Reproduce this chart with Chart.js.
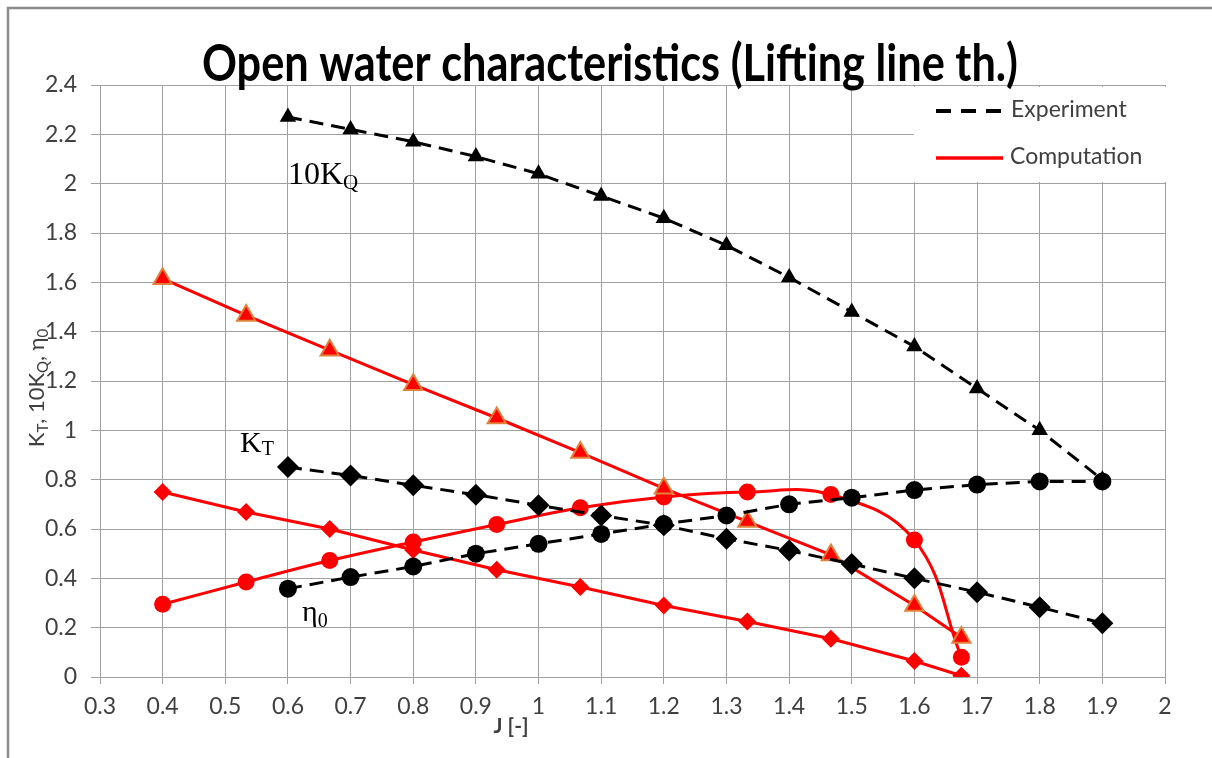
<!DOCTYPE html>
<html>
<head>
<meta charset="utf-8">
<script src="https://cdn.jsdelivr.net/npm/chart.js@4.4.1/dist/chart.umd.min.js"></script>
<style>
  body { margin: 0; background: #ffffff; }
  #wrap { position: relative; width: 1212px; height: 758px; }
</style>
</head>
<body>
<div id="wrap"><canvas id="owChart" width="1212" height="758"></canvas></div>
<script>
// --- DATA ---
// Experiment: J = 0.6 .. 1.9
const jExp = [0.6, 0.7, 0.8, 0.9, 1.0, 1.1, 1.2, 1.3, 1.4, 1.5, 1.6, 1.7, 1.8, 1.9];
const kq10Exp = [2.27, 2.22, 2.17, 2.11, 2.04, 1.95, 1.86, 1.75, 1.62, 1.48, 1.34, 1.17, 1.00, 0.80];
const ktExp = [0.851, 0.817, 0.777, 0.739, 0.696, 0.655, 0.615, 0.56, 0.513, 0.458, 0.40, 0.344, 0.283, 0.218];
const etaExp = [0.358, 0.405, 0.448, 0.50, 0.54, 0.58, 0.62, 0.655, 0.70, 0.727, 0.758, 0.78, 0.793, 0.793];

// Computation (lifting line theory)
const jComp = [0.4, 0.5333, 0.6667, 0.8, 0.9333, 1.0667, 1.2, 1.3333, 1.4667, 1.6, 1.675];
const kq10Comp = [1.615, 1.466, 1.325, 1.185, 1.05, 0.91, 0.765, 0.63, 0.495, 0.29, 0.16];
const ktComp = [0.75, 0.669, 0.60, 0.515, 0.435, 0.365, 0.29, 0.225, 0.155, 0.065, 0.005];
const etaComp = [0.295, 0.385, 0.472, 0.547, 0.618, 0.686, 0.73, 0.75, 0.74, 0.555, 0.08];

// Axis ranges / ticks
const xMin = 0.3, xMax = 2.0, xStep = 0.1;
const yMin = 0, yMax = 2.4, yStep = 0.2;

const legendLabels = ['Experiment', 'Computation'];
const titleText = 'Open water characteristics (Lifting line th.)';

// Helper: pair J values with a series
function toPoints(xs, ys) {
    return xs.map((x, i) => ({ x: x, y: ys[i] }));
}

// Helper: "1.0" -> "1", "0.30000004" -> "0.3"
function fmtTick(v) {
    return String(Math.round(v * 10) / 10);
}

const gridColor = '#a0a0a0';
const textColor = '#404040';

// Helper: text with a subscript, returns x after drawing
function drawSubText(ctx, x, y, parts, bigFont, smallFont, subDy) {
    parts.forEach(p => {
        ctx.font = p.sub ? smallFont : bigFont;
        ctx.fillText(p.t, x, y + (p.sub ? subDy : 0));
        x += ctx.measureText(p.t).width;
    });
    return x;
}

function measureSubText(ctx, parts, bigFont, smallFont) {
    let w = 0;
    parts.forEach(p => {
        ctx.font = p.sub ? smallFont : bigFont;
        w += ctx.measureText(p.t).width;
    });
    return w;
}

// --- DECORATIONS: frame, title, legend box, axis titles, curve labels ---
const decorations = {
    id: 'decorations',
    beforeDatasetsDraw(chart) {
        const ctx = chart.ctx;
        ctx.save();
        // legend box covers the grid (white, no border)
        ctx.fillStyle = '#ffffff';
        ctx.fillRect(914, 87, 252, 95);

        ctx.lineWidth = 4;
        ctx.strokeStyle = '#000000';
        ctx.setLineDash([15, 10]);
        ctx.beginPath();
        ctx.moveTo(936, 111);
        ctx.lineTo(1003, 111);
        ctx.stroke();

        ctx.setLineDash([]);
        ctx.lineWidth = 3.5;
        ctx.strokeStyle = '#ff0000';
        ctx.beginPath();
        ctx.moveTo(936, 158);
        ctx.lineTo(1003, 158);
        ctx.stroke();

        ctx.fillStyle = textColor;
        ctx.font = '23px Lato';
        ctx.textBaseline = 'alphabetic';
        ctx.textAlign = 'left';
        ctx.fillText(legendLabels[0], 1011, 117);
        ctx.fillText(legendLabels[1], 1010, 164);
        ctx.restore();
    },
    afterDraw(chart) {
        const ctx = chart.ctx;
        ctx.save();

        // outer frame
        ctx.strokeStyle = '#8c8c8c';
        ctx.lineWidth = 2.5;
        ctx.strokeRect(8, 8, 1300, 900);

        // title, condensed to the reference width
        ctx.fillStyle = '#000000';
        ctx.font = 'bold 52px Lato';
        ctx.textAlign = 'left';
        ctx.textBaseline = 'alphabetic';
        const tw = ctx.measureText(titleText).width;
        const targetW = 816;
        ctx.save();
        ctx.translate(202, 81);
        ctx.scale(targetW / tw, 1);
        ctx.fillText(titleText, 0, 0);
        ctx.restore();

        // x axis title
        ctx.fillStyle = textColor;
        ctx.font = 'bold 21px Lato';
        ctx.textAlign = 'center';
        ctx.fillText('J [-]', 511, 733);

        // y axis title (rotated)
        const yParts = [
            { t: 'K' }, { t: 'T', sub: true }, { t: ', 10K' }, { t: 'Q', sub: true },
            { t: ', η' }, { t: '0', sub: true }
        ];
        const bigY = '22px Lato', smallY = '15px Lato';
        const yw = measureSubText(ctx, yParts, bigY, smallY);
        ctx.save();
        ctx.translate(44, 388);
        ctx.rotate(-Math.PI / 2);
        ctx.textAlign = 'left';
        drawSubText(ctx, -yw / 2, 0, yParts, bigY, smallY, 4);
        ctx.restore();

        // curve labels (serif, like the original annotations)
        ctx.fillStyle = '#000000';
        ctx.textAlign = 'left';
        drawSubText(ctx, 288, 184, [{ t: '10K' }, { t: 'Q', sub: true }],
            '32px "Liberation Serif"', '21px "Liberation Serif"', 5);
        drawSubText(ctx, 240, 452, [{ t: 'K' }, { t: 'T', sub: true }],
            '30px "Liberation Serif"', '20px "Liberation Serif"', 3);
        drawSubText(ctx, 302, 621, [{ t: 'η' }, { t: '0', sub: true }],
            '30px "Liberation Serif"', '20px "Liberation Serif"', 6);

        ctx.restore();
    }
};

// --- DATASETS (first one is drawn on top) ---
const expLine = { borderColor: '#000000', borderWidth: 3, borderDash: [14, 8], tension: 0 };
const compLine = { borderColor: '#ff0000', borderWidth: 3, borderDash: [], tension: 0 };

const datasets = [
    Object.assign({}, expLine, {
        label: 'eta0 exp', data: toPoints(jExp, etaExp),
        pointStyle: 'circle', pointRadius: 9,
        pointBackgroundColor: '#000000', pointBorderColor: '#000000', pointBorderWidth: 0
    }),
    Object.assign({}, expLine, {
        label: 'KT exp', data: toPoints(jExp, ktExp),
        pointStyle: 'rectRot', pointRadius: 11,
        pointBackgroundColor: '#000000', pointBorderColor: '#000000', pointBorderWidth: 0
    }),
    Object.assign({}, expLine, {
        label: '10KQ exp', data: toPoints(jExp, kq10Exp),
        pointStyle: 'triangle', pointRadius: 9.5,
        pointBackgroundColor: '#000000', pointBorderColor: '#000000', pointBorderWidth: 0
    }),
    Object.assign({}, compLine, {
        label: '10KQ comp', data: toPoints(jComp, kq10Comp),
        pointStyle: 'triangle', pointRadius: 10.5,
        pointBackgroundColor: '#ff0000', pointBorderColor: '#e0823a', pointBorderWidth: 2
    }),
    Object.assign({}, compLine, {
        label: 'eta0 comp', data: toPoints(jComp, etaComp), tension: 0.4,
        pointStyle: 'circle', pointRadius: 8.5,
        pointBackgroundColor: '#ff0000', pointBorderColor: '#ff0000', pointBorderWidth: 0
    }),
    Object.assign({}, compLine, {
        label: 'KT comp', data: toPoints(jComp, ktComp),
        pointStyle: 'rectRot', pointRadius: 9,
        pointBackgroundColor: '#ff0000', pointBorderColor: '#ff0000', pointBorderWidth: 0
    })
];

new Chart(document.getElementById('owChart'), {
    type: 'line',
    data: { datasets: datasets },
    options: {
        responsive: false,
        animation: false,
        devicePixelRatio: 1,
        layout: { padding: { left: 0, top: 85, right: 47, bottom: 0 } },
        plugins: {
            legend: { display: false },
            title: { display: false },
            tooltip: { enabled: false }
        },
        scales: {
            x: {
                type: 'linear',
                min: xMin, max: xMax,
                afterFit: (scale) => { scale.height = 81; },
                ticks: {
                    stepSize: xStep,
                    color: textColor,
                    font: { family: 'Lato', size: 23 },
                    padding: 9,
                    maxRotation: 0,
                    autoSkip: false,
                    callback: (v) => fmtTick(v)
                },
                grid: { color: gridColor, lineWidth: 1, tickLength: 7 },
                border: { color: gridColor, width: 1 }
            },
            y: {
                type: 'linear',
                min: yMin, max: yMax,
                afterFit: (scale) => { scale.width = 100; },
                ticks: {
                    stepSize: yStep,
                    color: textColor,
                    font: { family: 'Lato', size: 23 },
                    padding: 14,
                    autoSkip: false,
                    callback: (v) => fmtTick(v)
                },
                grid: { color: gridColor, lineWidth: 1, tickLength: 9 },
                border: { color: gridColor, width: 1 }
            }
        }
    },
    plugins: [decorations]
});
</script>
</body>
</html>
